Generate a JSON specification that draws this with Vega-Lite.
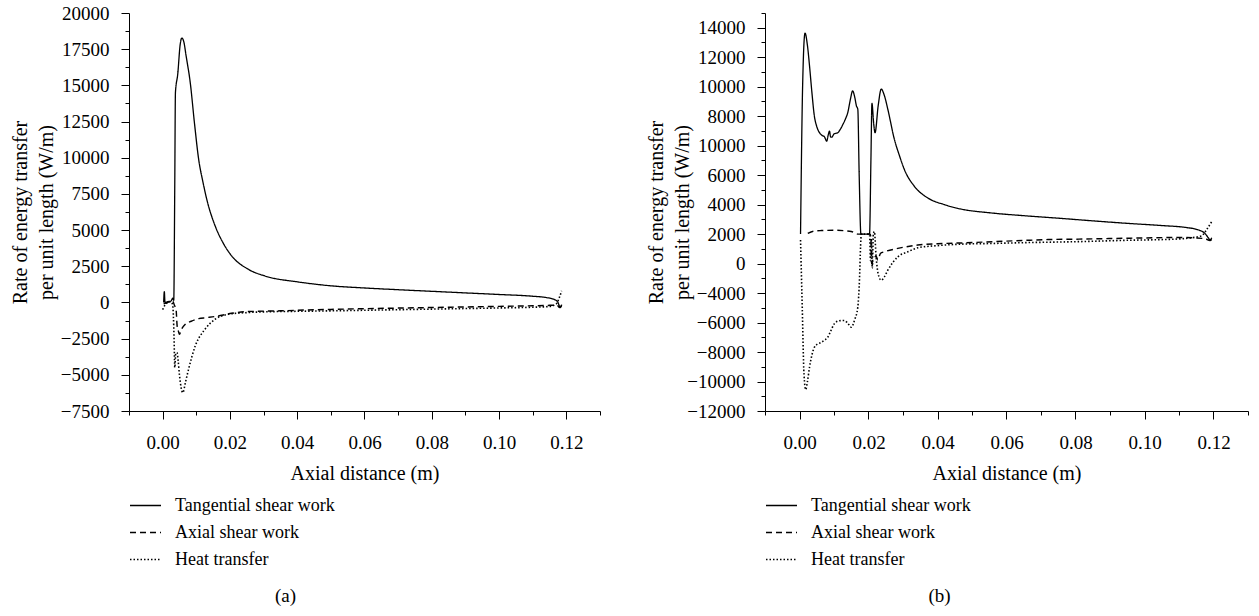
{
  "$schema": "https://vega.github.io/schema/vega-lite/v6.json",
  "background": "white",
  "padding": {"left": 10, "top": 4, "right": 5, "bottom": 2},
  "spacing": 45,
  "config": {
    "font": "Liberation Serif",
    "view": {"stroke": null},
    "axis": {
      "domainColor": "black", "tickColor": "black", "labelColor": "black", "titleColor": "black",
      "labelFont": "Liberation Serif", "titleFont": "Liberation Serif",
      "labelFontSize": 19, "titleFontSize": 20, "titleFontWeight": "normal",
      "grid": false, "labelOverlap": false, "labelFlush": false, "domainWidth": 1, "tickWidth": 1
    },
    "legend": {
      "orient": "none", "legendX": 0, "legendY": 476, "title": null,
      "direction": "vertical",
      "symbolType": "stroke", "symbolSize": 961, "symbolStrokeColor": "black", "symbolStrokeWidth": 1.2,
      "labelFont": "Liberation Serif", "labelFontSize": 18, "labelColor": "black",
      "labelOffset": 13, "rowPadding": 1, "padding": 0
    },
    "title": {"font": "Liberation Serif", "fontSize": 19, "fontWeight": "normal", "color": "black"}
  },
  "resolve": {"scale": {"x": "independent", "y": "independent", "strokeDash": "independent", "strokeWidth": "independent"}, "legend": {"strokeDash": "independent", "strokeWidth": "independent"}},
  "hconcat": [
    {
      "width": 471, "height": 398,
      "title": {"text": "(a)", "orient": "bottom", "anchor": "middle", "frame": "group", "dx": -79, "offset": 18},
      "data": {"values": [
        {"series": "Tangential shear work", "x": 0.0003, "y": 0},
        {"series": "Tangential shear work", "x": 0.0005, "y": 750},
        {"series": "Tangential shear work", "x": 0.0007, "y": 0},
        {"series": "Tangential shear work", "x": 0.0015, "y": 50},
        {"series": "Tangential shear work", "x": 0.0025, "y": 100},
        {"series": "Tangential shear work", "x": 0.003, "y": 300},
        {"series": "Tangential shear work", "x": 0.0033, "y": 150},
        {"series": "Tangential shear work", "x": 0.0036, "y": 8000},
        {"series": "Tangential shear work", "x": 0.0038, "y": 14500},
        {"series": "Tangential shear work", "x": 0.0045, "y": 15800},
        {"series": "Tangential shear work", "x": 0.0052, "y": 17800},
        {"series": "Tangential shear work", "x": 0.0057, "y": 18270},
        {"series": "Tangential shear work", "x": 0.0063, "y": 18000},
        {"series": "Tangential shear work", "x": 0.007, "y": 17000},
        {"series": "Tangential shear work", "x": 0.0082, "y": 15200},
        {"series": "Tangential shear work", "x": 0.0095, "y": 12300},
        {"series": "Tangential shear work", "x": 0.0107, "y": 9900},
        {"series": "Tangential shear work", "x": 0.012, "y": 8300},
        {"series": "Tangential shear work", "x": 0.0131, "y": 7140},
        {"series": "Tangential shear work", "x": 0.0156, "y": 5290},
        {"series": "Tangential shear work", "x": 0.018, "y": 4100},
        {"series": "Tangential shear work", "x": 0.0205, "y": 3220},
        {"series": "Tangential shear work", "x": 0.0254, "y": 2300},
        {"series": "Tangential shear work", "x": 0.0304, "y": 1830},
        {"series": "Tangential shear work", "x": 0.0402, "y": 1420},
        {"series": "Tangential shear work", "x": 0.05, "y": 1150},
        {"series": "Tangential shear work", "x": 0.06, "y": 1000},
        {"series": "Tangential shear work", "x": 0.07, "y": 880},
        {"series": "Tangential shear work", "x": 0.08, "y": 770},
        {"series": "Tangential shear work", "x": 0.09, "y": 660},
        {"series": "Tangential shear work", "x": 0.1, "y": 550},
        {"series": "Tangential shear work", "x": 0.11, "y": 430},
        {"series": "Tangential shear work", "x": 0.114, "y": 340},
        {"series": "Tangential shear work", "x": 0.1165, "y": 200},
        {"series": "Tangential shear work", "x": 0.1175, "y": 0},
        {"series": "Tangential shear work", "x": 0.1182, "y": -350},
        {"series": "Tangential shear work", "x": 0.1186, "y": -150},
        {"series": "Axial shear work", "x": 0.0003, "y": -100},
        {"series": "Axial shear work", "x": 0.0015, "y": 0},
        {"series": "Axial shear work", "x": 0.003, "y": 100},
        {"series": "Axial shear work", "x": 0.0035, "y": -200},
        {"series": "Axial shear work", "x": 0.004, "y": -500},
        {"series": "Axial shear work", "x": 0.0043, "y": -1600},
        {"series": "Axial shear work", "x": 0.0047, "y": -2000},
        {"series": "Axial shear work", "x": 0.005, "y": -2200},
        {"series": "Axial shear work", "x": 0.0055, "y": -1900},
        {"series": "Axial shear work", "x": 0.0067, "y": -1510},
        {"series": "Axial shear work", "x": 0.0085, "y": -1300},
        {"series": "Axial shear work", "x": 0.0107, "y": -1120},
        {"series": "Axial shear work", "x": 0.013, "y": -1050},
        {"series": "Axial shear work", "x": 0.0156, "y": -970},
        {"series": "Axial shear work", "x": 0.0205, "y": -750},
        {"series": "Axial shear work", "x": 0.0254, "y": -630},
        {"series": "Axial shear work", "x": 0.035, "y": -580},
        {"series": "Axial shear work", "x": 0.043, "y": -520},
        {"series": "Axial shear work", "x": 0.05, "y": -480},
        {"series": "Axial shear work", "x": 0.06, "y": -430},
        {"series": "Axial shear work", "x": 0.07, "y": -390},
        {"series": "Axial shear work", "x": 0.08, "y": -350},
        {"series": "Axial shear work", "x": 0.09, "y": -310},
        {"series": "Axial shear work", "x": 0.1, "y": -270},
        {"series": "Axial shear work", "x": 0.11, "y": -230},
        {"series": "Axial shear work", "x": 0.115, "y": -200},
        {"series": "Axial shear work", "x": 0.1172, "y": -180},
        {"series": "Axial shear work", "x": 0.118, "y": -350},
        {"series": "Axial shear work", "x": 0.1186, "y": -200},
        {"series": "Heat transfer", "x": 0.0, "y": -500},
        {"series": "Heat transfer", "x": 0.0005, "y": -250},
        {"series": "Heat transfer", "x": 0.0015, "y": 0},
        {"series": "Heat transfer", "x": 0.0025, "y": 50},
        {"series": "Heat transfer", "x": 0.003, "y": -200},
        {"series": "Heat transfer", "x": 0.0034, "y": -2500},
        {"series": "Heat transfer", "x": 0.0036, "y": -4500},
        {"series": "Heat transfer", "x": 0.0039, "y": -3500},
        {"series": "Heat transfer", "x": 0.0043, "y": -3470},
        {"series": "Heat transfer", "x": 0.0046, "y": -4000},
        {"series": "Heat transfer", "x": 0.005, "y": -5000},
        {"series": "Heat transfer", "x": 0.0055, "y": -5900},
        {"series": "Heat transfer", "x": 0.006, "y": -6230},
        {"series": "Heat transfer", "x": 0.0068, "y": -5500},
        {"series": "Heat transfer", "x": 0.0077, "y": -4620},
        {"series": "Heat transfer", "x": 0.0097, "y": -3000},
        {"series": "Heat transfer", "x": 0.0126, "y": -1850},
        {"series": "Heat transfer", "x": 0.0156, "y": -1160},
        {"series": "Heat transfer", "x": 0.0195, "y": -820},
        {"series": "Heat transfer", "x": 0.025, "y": -700},
        {"series": "Heat transfer", "x": 0.03, "y": -650},
        {"series": "Heat transfer", "x": 0.04, "y": -610},
        {"series": "Heat transfer", "x": 0.05, "y": -580},
        {"series": "Heat transfer", "x": 0.06, "y": -540},
        {"series": "Heat transfer", "x": 0.07, "y": -500},
        {"series": "Heat transfer", "x": 0.08, "y": -460},
        {"series": "Heat transfer", "x": 0.09, "y": -420},
        {"series": "Heat transfer", "x": 0.1, "y": -380},
        {"series": "Heat transfer", "x": 0.11, "y": -330},
        {"series": "Heat transfer", "x": 0.115, "y": -280},
        {"series": "Heat transfer", "x": 0.117, "y": -100},
        {"series": "Heat transfer", "x": 0.118, "y": 400},
        {"series": "Heat transfer", "x": 0.1186, "y": 800}
      ]},
      "mark": {"type": "line", "color": "black", "interpolate": "monotone"},
      "encoding": {
        "x": {"field": "x", "type": "quantitative",
          "scale": {"domain": [-0.01, 0.13], "nice": false, "zero": false},
          "axis": {"title": "Axial distance (m)",
            "values": [-0.01, 0, 0.01, 0.02, 0.03, 0.04, 0.05, 0.06, 0.07, 0.08, 0.09, 0.1, 0.11, 0.12, 0.13],
            "labelExpr": "(round(datum.value*100) % 2 == 0 && datum.value > -0.005 && datum.value < 0.125) ? format(datum.value, '.2f') : ''",
            "tickSize": {"condition": {"test": "round(datum.value*100) % 2 != 0", "value": 4}, "value": 8},
            "labelPadding": 14, "titlePadding": 11}},
        "y": {"field": "y", "type": "quantitative",
          "scale": {"domain": [-7500, 20000], "nice": false, "zero": false},
          "axis": {"title": ["Rate of energy transfer", "per unit length (W/m)"],
            "values": [-7500, -6250, -5000, -3750, -2500, -1250, 0, 1250, 2500, 3750, 5000, 6250, 7500, 8750, 10000, 11250, 12500, 13750, 15000, 16250, 17500, 18750, 20000],
            "labelExpr": "datum.value % 2500 == 0 ? format(datum.value, 'd') : ''",
            "tickSize": {"condition": {"test": "datum.value % 2500 != 0", "value": 4}, "value": 8},
            "labelPadding": 12,
            "titleX": -103, "titleY": 199, "titleAngle": -90, "titleAlign": "center", "titleBaseline": "alphabetic", "titleLineHeight": 26}},
        "strokeDash": {"field": "series", "type": "nominal",
          "scale": {"domain": ["Tangential shear work", "Axial shear work", "Heat transfer"], "range": [[1, 0], [6, 4], [1.5, 2]]}},
        "strokeWidth": {"field": "series", "type": "nominal",
          "scale": {"domain": ["Tangential shear work", "Axial shear work", "Heat transfer"], "range": [1.3, 1.6, 1]}}
      }
    },
    {
      "width": 483, "height": 398,
      "title": {"text": "(b)", "orient": "bottom", "anchor": "middle", "frame": "group", "dx": -67, "offset": 18},
      "data": {"values": [
        {"series": "Tangential shear work", "x": 0.0003, "y": 0},
        {"series": "Tangential shear work", "x": 0.0009, "y": 10000},
        {"series": "Tangential shear work", "x": 0.0016, "y": 13640},
        {"series": "Tangential shear work", "x": 0.0023, "y": 12800},
        {"series": "Tangential shear work", "x": 0.0029, "y": 11430},
        {"series": "Tangential shear work", "x": 0.0036, "y": 9600},
        {"series": "Tangential shear work", "x": 0.0043, "y": 8020},
        {"series": "Tangential shear work", "x": 0.005, "y": 7300},
        {"series": "Tangential shear work", "x": 0.0058, "y": 6880},
        {"series": "Tangential shear work", "x": 0.0065, "y": 6700},
        {"series": "Tangential shear work", "x": 0.0072, "y": 6610},
        {"series": "Tangential shear work", "x": 0.0079, "y": 6310},
        {"series": "Tangential shear work", "x": 0.0083, "y": 6700},
        {"series": "Tangential shear work", "x": 0.0087, "y": 6990},
        {"series": "Tangential shear work", "x": 0.009, "y": 6600},
        {"series": "Tangential shear work", "x": 0.0094, "y": 6580},
        {"series": "Tangential shear work", "x": 0.01, "y": 6800},
        {"series": "Tangential shear work", "x": 0.0111, "y": 6880},
        {"series": "Tangential shear work", "x": 0.0118, "y": 7100},
        {"series": "Tangential shear work", "x": 0.0126, "y": 7450},
        {"series": "Tangential shear work", "x": 0.0133, "y": 7800},
        {"series": "Tangential shear work", "x": 0.014, "y": 8250},
        {"series": "Tangential shear work", "x": 0.0148, "y": 9200},
        {"series": "Tangential shear work", "x": 0.0154, "y": 9720},
        {"series": "Tangential shear work", "x": 0.016, "y": 9300},
        {"series": "Tangential shear work", "x": 0.0165, "y": 8700},
        {"series": "Tangential shear work", "x": 0.0169, "y": 8470},
        {"series": "Tangential shear work", "x": 0.0173, "y": 4000},
        {"series": "Tangential shear work", "x": 0.0178, "y": 0},
        {"series": "Tangential shear work", "x": 0.0203, "y": 0},
        {"series": "Tangential shear work", "x": 0.0207, "y": 5000},
        {"series": "Tangential shear work", "x": 0.021, "y": 8870},
        {"series": "Tangential shear work", "x": 0.0215, "y": 7500},
        {"series": "Tangential shear work", "x": 0.0219, "y": 6880},
        {"series": "Tangential shear work", "x": 0.0228, "y": 8700},
        {"series": "Tangential shear work", "x": 0.0237, "y": 9840},
        {"series": "Tangential shear work", "x": 0.0246, "y": 9400},
        {"series": "Tangential shear work", "x": 0.0256, "y": 8470},
        {"series": "Tangential shear work", "x": 0.0275, "y": 6430},
        {"series": "Tangential shear work", "x": 0.029, "y": 5300},
        {"series": "Tangential shear work", "x": 0.0304, "y": 4380},
        {"series": "Tangential shear work", "x": 0.0333, "y": 3240},
        {"series": "Tangential shear work", "x": 0.0372, "y": 2450},
        {"series": "Tangential shear work", "x": 0.042, "y": 2000},
        {"series": "Tangential shear work", "x": 0.0468, "y": 1700},
        {"series": "Tangential shear work", "x": 0.055, "y": 1450},
        {"series": "Tangential shear work", "x": 0.065, "y": 1250},
        {"series": "Tangential shear work", "x": 0.075, "y": 1080},
        {"series": "Tangential shear work", "x": 0.085, "y": 900},
        {"series": "Tangential shear work", "x": 0.095, "y": 730},
        {"series": "Tangential shear work", "x": 0.105, "y": 580},
        {"series": "Tangential shear work", "x": 0.112, "y": 450},
        {"series": "Tangential shear work", "x": 0.1154, "y": 300},
        {"series": "Tangential shear work", "x": 0.1175, "y": 50},
        {"series": "Tangential shear work", "x": 0.1185, "y": -250},
        {"series": "Tangential shear work", "x": 0.119, "y": -400},
        {"series": "Tangential shear work", "x": 0.1195, "y": -250},
        {"series": "Axial shear work", "x": 0.0024, "y": 50},
        {"series": "Axial shear work", "x": 0.004, "y": 200},
        {"series": "Axial shear work", "x": 0.0063, "y": 240},
        {"series": "Axial shear work", "x": 0.01, "y": 260},
        {"series": "Axial shear work", "x": 0.013, "y": 230},
        {"series": "Axial shear work", "x": 0.015, "y": 180},
        {"series": "Axial shear work", "x": 0.017, "y": 0},
        {"series": "Axial shear work", "x": 0.0205, "y": 0},
        {"series": "Axial shear work", "x": 0.0207, "y": -300},
        {"series": "Axial shear work", "x": 0.0209, "y": -2000},
        {"series": "Axial shear work", "x": 0.0213, "y": -1800},
        {"series": "Axial shear work", "x": 0.0222, "y": -1500},
        {"series": "Axial shear work", "x": 0.0227, "y": -1750},
        {"series": "Axial shear work", "x": 0.0235, "y": -1300},
        {"series": "Axial shear work", "x": 0.0246, "y": -1200},
        {"series": "Axial shear work", "x": 0.0285, "y": -970},
        {"series": "Axial shear work", "x": 0.0343, "y": -740},
        {"series": "Axial shear work", "x": 0.04, "y": -650},
        {"series": "Axial shear work", "x": 0.0468, "y": -600},
        {"series": "Axial shear work", "x": 0.0565, "y": -510},
        {"series": "Axial shear work", "x": 0.065, "y": -430},
        {"series": "Axial shear work", "x": 0.072, "y": -370},
        {"series": "Axial shear work", "x": 0.081, "y": -340},
        {"series": "Axial shear work", "x": 0.09, "y": -300},
        {"series": "Axial shear work", "x": 0.1, "y": -260},
        {"series": "Axial shear work", "x": 0.11, "y": -230},
        {"series": "Axial shear work", "x": 0.1174, "y": -300},
        {"series": "Axial shear work", "x": 0.119, "y": -430},
        {"series": "Axial shear work", "x": 0.1195, "y": -350},
        {"series": "Heat transfer", "x": 0.0003, "y": -400},
        {"series": "Heat transfer", "x": 0.0008, "y": -5000},
        {"series": "Heat transfer", "x": 0.0013, "y": -9500},
        {"series": "Heat transfer", "x": 0.0018, "y": -10550},
        {"series": "Heat transfer", "x": 0.0023, "y": -10000},
        {"series": "Heat transfer", "x": 0.0029, "y": -9040},
        {"series": "Heat transfer", "x": 0.0036, "y": -8200},
        {"series": "Heat transfer", "x": 0.0043, "y": -7680},
        {"series": "Heat transfer", "x": 0.0053, "y": -7450},
        {"series": "Heat transfer", "x": 0.0063, "y": -7340},
        {"series": "Heat transfer", "x": 0.0072, "y": -7200},
        {"series": "Heat transfer", "x": 0.0082, "y": -7000},
        {"series": "Heat transfer", "x": 0.009, "y": -6600},
        {"series": "Heat transfer", "x": 0.0101, "y": -6080},
        {"series": "Heat transfer", "x": 0.0115, "y": -5880},
        {"series": "Heat transfer", "x": 0.013, "y": -5860},
        {"series": "Heat transfer", "x": 0.014, "y": -6050},
        {"series": "Heat transfer", "x": 0.015, "y": -6320},
        {"series": "Heat transfer", "x": 0.016, "y": -5800},
        {"series": "Heat transfer", "x": 0.0169, "y": -4950},
        {"series": "Heat transfer", "x": 0.0174, "y": -3000},
        {"series": "Heat transfer", "x": 0.0177, "y": -850},
        {"series": "Heat transfer", "x": 0.0179, "y": 0},
        {"series": "Heat transfer", "x": 0.0203, "y": 0},
        {"series": "Heat transfer", "x": 0.0206, "y": -1800},
        {"series": "Heat transfer", "x": 0.0208, "y": -300},
        {"series": "Heat transfer", "x": 0.0211, "y": -2300},
        {"series": "Heat transfer", "x": 0.0214, "y": 0},
        {"series": "Heat transfer", "x": 0.0217, "y": 170},
        {"series": "Heat transfer", "x": 0.0222, "y": -1500},
        {"series": "Heat transfer", "x": 0.0228, "y": -2700},
        {"series": "Heat transfer", "x": 0.0237, "y": -3130},
        {"series": "Heat transfer", "x": 0.0246, "y": -2900},
        {"series": "Heat transfer", "x": 0.0256, "y": -2450},
        {"series": "Heat transfer", "x": 0.0285, "y": -1540},
        {"series": "Heat transfer", "x": 0.0314, "y": -1200},
        {"series": "Heat transfer", "x": 0.0343, "y": -930},
        {"series": "Heat transfer", "x": 0.04, "y": -780},
        {"series": "Heat transfer", "x": 0.0468, "y": -680},
        {"series": "Heat transfer", "x": 0.055, "y": -640},
        {"series": "Heat transfer", "x": 0.065, "y": -580},
        {"series": "Heat transfer", "x": 0.081, "y": -510},
        {"series": "Heat transfer", "x": 0.095, "y": -420},
        {"series": "Heat transfer", "x": 0.1097, "y": -330},
        {"series": "Heat transfer", "x": 0.1165, "y": -120},
        {"series": "Heat transfer", "x": 0.118, "y": 300},
        {"series": "Heat transfer", "x": 0.1195, "y": 860}
      ]},
      "mark": {"type": "line", "color": "black", "interpolate": "monotone"},
      "encoding": {
        "x": {"field": "x", "type": "quantitative",
          "scale": {"domain": [-0.01, 0.13], "nice": false, "zero": false},
          "axis": {"title": "Axial distance (m)",
            "values": [-0.01, 0, 0.01, 0.02, 0.03, 0.04, 0.05, 0.06, 0.07, 0.08, 0.09, 0.1, 0.11, 0.12, 0.13],
            "labelExpr": "(round(datum.value*100) % 2 == 0 && datum.value > -0.005 && datum.value < 0.125) ? format(datum.value, '.2f') : ''",
            "tickSize": {"condition": {"test": "round(datum.value*100) % 2 != 0", "value": 4}, "value": 8},
            "labelPadding": 14, "titlePadding": 11}},
        "y": {"field": "y", "type": "quantitative",
          "scale": {"domain": [-12000, 15000], "nice": false, "zero": false},
          "axis": {"title": ["Rate of energy transfer", "per unit length (W/m)"],
            "values": [-12000, -11000, -10000, -9000, -8000, -7000, -6000, -5000, -4000, -3000, -2000, -1000, 0, 1000, 2000, 3000, 4000, 5000, 6000, 7000, 8000, 9000, 10000, 11000, 12000, 13000, 14000, 15000],
            "labelExpr": "datum.value % 2000 != 0 ? '' : datum.value == 6000 ? '10000' : datum.value == 4000 ? '6000' : datum.value == 2000 ? '4000' : datum.value == 0 ? '2000' : datum.value == -2000 ? '0' : format(datum.value, 'd')",
            "tickSize": {"condition": {"test": "datum.value % 2000 != 0", "value": 4}, "value": 8},
            "labelPadding": 12,
            "titleX": -103, "titleY": 199, "titleAngle": -90, "titleAlign": "center", "titleBaseline": "alphabetic", "titleLineHeight": 26}},
        "strokeDash": {"field": "series", "type": "nominal",
          "scale": {"domain": ["Tangential shear work", "Axial shear work", "Heat transfer"], "range": [[1, 0], [6, 4], [1.5, 2]]}},
        "strokeWidth": {"field": "series", "type": "nominal",
          "scale": {"domain": ["Tangential shear work", "Axial shear work", "Heat transfer"], "range": [1.3, 1.6, 1]}}
      }
    }
  ]
}
